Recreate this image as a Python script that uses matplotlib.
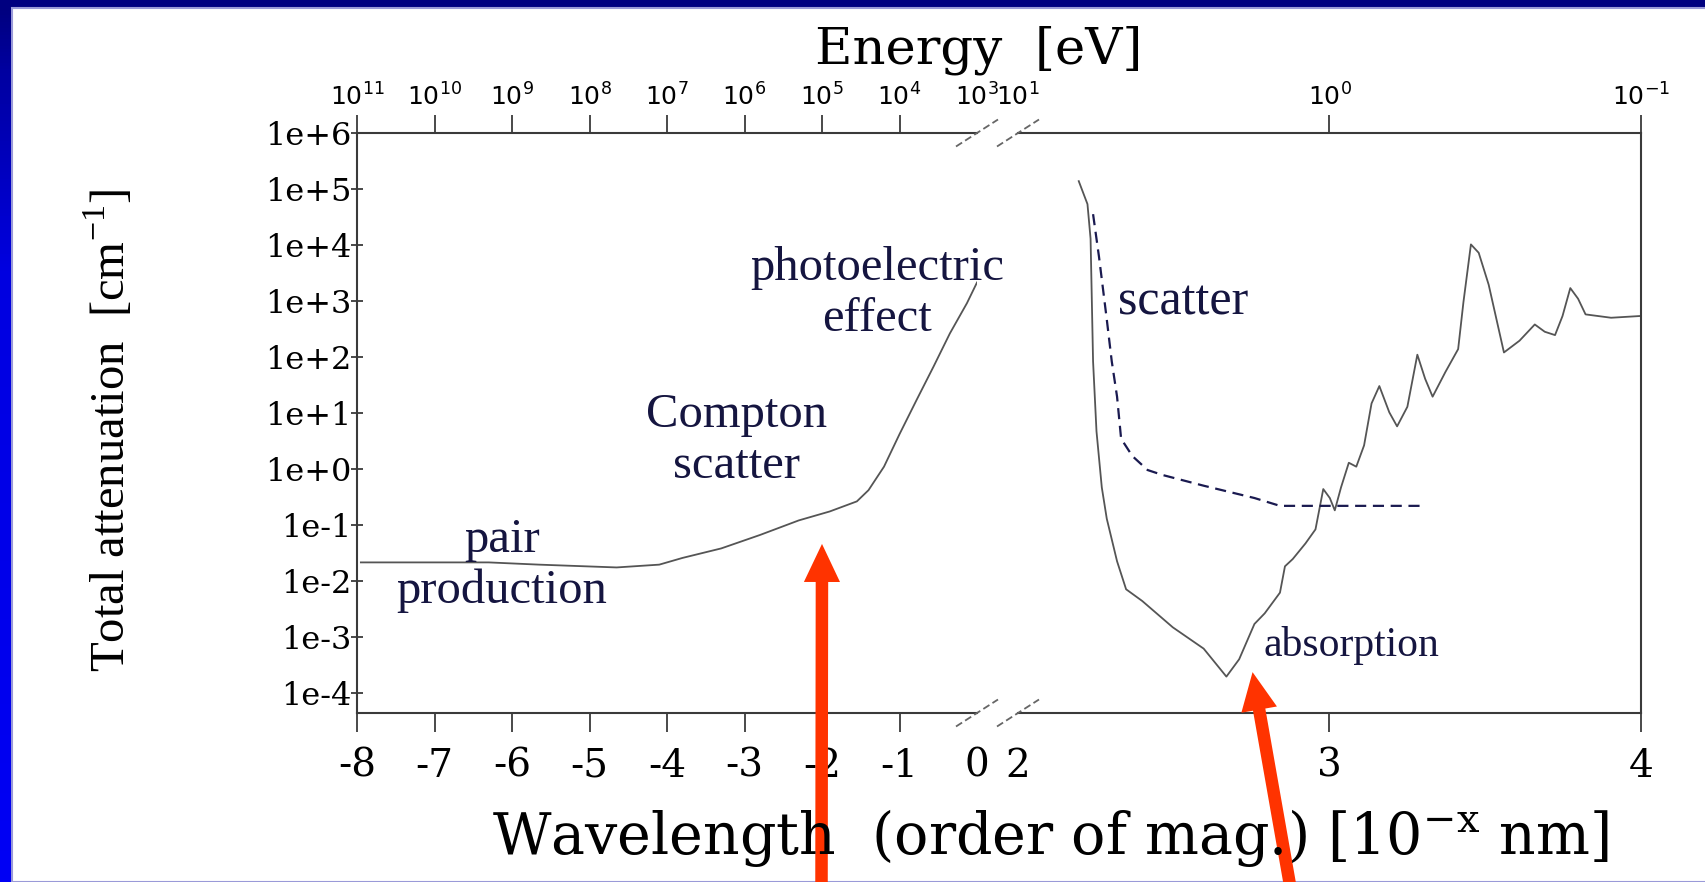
import matplotlib
matplotlib.use('Agg')
import matplotlib.pyplot as plt
import matplotlib.patches as mpatches
import matplotlib.lines as mlines
from matplotlib.ticker import NullLocator
import numpy as np

# wavelength order of magnitude (x) vs log10 of total attenuation [cm^-1]
# high energy part (left of the axis break)
gamma_x = [-7.95, -6.3, -5.65, -5.25, -4.65, -4.1, -3.8, -3.3, -2.8, -2.3,
           -1.9, -1.55, -1.4, -1.2, -1.0, -0.78, -0.56, -0.35, -0.13, 0.0]
gamma_logmu = [-1.67, -1.67, -1.71, -1.73, -1.76, -1.71, -1.59, -1.42, -1.18, -0.92,
               -0.76, -0.58, -0.38, 0.04, 0.62, 1.23, 1.83, 2.42, 2.96, 3.33]

# optical part (right of the break): absorption, solid
absorb_x = [2.195, 2.223, 2.233, 2.241, 2.252, 2.269, 2.285, 2.318, 2.347, 2.399,
            2.497, 2.596, 2.669, 2.710, 2.759, 2.792, 2.841, 2.857, 2.882, 2.923,
            2.955, 2.980, 3.001, 3.017, 3.037, 3.062, 3.086, 3.111, 3.135, 3.160,
            3.192, 3.217, 3.250, 3.282, 3.307, 3.331, 3.372, 3.413, 3.430, 3.454,
            3.479, 3.511, 3.560, 3.610, 3.659, 3.691, 3.724, 3.748, 3.773, 3.798,
            3.822, 3.904, 3.994]
absorb_logmu = [5.14, 4.73, 4.11, 1.92, 0.67, -0.33, -0.89, -1.65, -2.15, -2.36,
                -2.83, -3.21, -3.71, -3.40, -2.77, -2.58, -2.21, -1.74, -1.61, -1.33,
                -1.08, -0.36, -0.52, -0.74, -0.33, 0.11, 0.04, 0.42, 1.17, 1.48,
                1.01, 0.76, 1.11, 2.04, 1.61, 1.29, 1.73, 2.14, 2.98, 4.01,
                3.86, 3.29, 2.08, 2.29, 2.58, 2.45, 2.39, 2.73, 3.23, 3.04,
                2.76, 2.70, 2.73]

# scatter, dashed
scat_x = [2.241, 2.260, 2.285, 2.301, 2.318, 2.331, 2.367, 2.416, 2.465, 2.596,
          2.759, 2.841, 3.307]
scat_logmu = [4.55, 3.79, 2.67, 1.92, 1.29, 0.54, 0.23, -0.02, -0.11, -0.30,
              -0.52, -0.66, -0.66]

left_ticks = [-8, -7, -6, -5, -4, -3, -2, -1, 0]
left_labels = ['-8', '-7', '-6', '-5', '-4', '-3', '-2', '-1', '0']
right_ticks = [2, 3, 4]
right_labels = ['2', '3', '4']
energy_left = ['10$^{11}$', '10$^{10}$', '10$^{9}$', '10$^{8}$', '10$^{7}$',
               '10$^{6}$', '10$^{5}$', '10$^{4}$', '10$^{3}$']
energy_right = ['10$^{1}$', '10$^{0}$', '10$^{-1}$']
y_exp = [6, 5, 4, 3, 2, 1, 0, -1, -2, -3, -4]
y_labels = ['1e%+d' % e for e in y_exp]

W, H = 1706, 882
fig = plt.figure(figsize=(W / 100, H / 100), dpi=100)
fig.patch.set_facecolor('#000080')

# white slide panel + blue strip on the left
fig.add_artist(mpatches.Rectangle((12 / W, 0), 1, 1 - 8 / H, transform=fig.transFigure,
                                  facecolor='white', edgecolor='#9a9ad8', lw=1.5, zorder=-2))
strip = fig.add_axes([0, 0, 11 / W, 1 - 8 / H], zorder=-1)
grad = np.linspace(0, 1, 256).reshape(-1, 1)
strip.imshow(grad, aspect='auto', cmap=matplotlib.colors.LinearSegmentedColormap.from_list(
    'strip', [(0, '#0000f5'), (0.7, '#0000e0'), (0.93, '#0000a0'), (1, '#000080')]),
    origin='lower')
strip.axis('off')

spine_col = '#3a3a3a'
ylo, yhi = 10 ** -4.36, 1e6

ax_l = fig.add_axes([357 / W, 169 / H, 620 / W, 580 / H])
ax_r = fig.add_axes([1018 / W, 169 / H, 623 / W, 580 / H])

ax_l.semilogy(gamma_x, 10.0 ** np.array(gamma_logmu), color='#555555', lw=1.3)
ax_r.semilogy(absorb_x, 10.0 ** np.array(absorb_logmu), color='#555555', lw=1.3)
ax_r.semilogy(scat_x, 10.0 ** np.array(scat_logmu), color='#1a1a50', lw=1.6,
              dashes=(5, 3))

for ax in (ax_l, ax_r):
    ax.set_ylim(ylo, yhi)
    ax.yaxis.set_minor_locator(NullLocator())
    ax.spines['top'].set_visible(False)
    for s in ax.spines.values():
        s.set_color(spine_col)
        s.set_linewidth(1.5)
    ax.tick_params(axis='x', direction='out', length=14, width=1.3, color=spine_col,
                   pad=11, labelsize=28)

ax_l.set_xlim(-8, 0)
ax_r.set_xlim(2, 4)
ax_l.spines['right'].set_visible(False)
ax_r.spines['left'].set_visible(False)

ax_l.set_yticks([10.0 ** e for e in y_exp], labels=y_labels)
ax_l.tick_params(axis='y', direction='inout', length=8, width=1.3, color=spine_col,
                 pad=0, labelsize=23)
for lab in ax_l.get_yticklabels():
    lab.set_fontfamily('DejaVu Serif')
ax_r.set_yticks([])

ax_l.set_xticks(left_ticks, labels=left_labels)
ax_r.set_xticks(right_ticks, labels=right_labels)
for ax in (ax_l, ax_r):
    for lab in ax.get_xticklabels():
        lab.set_fontfamily('DejaVu Serif')

# energy scale on top
sec_l = ax_l.secondary_xaxis('top')
sec_r = ax_r.secondary_xaxis('top')
sec_l.set_xticks(left_ticks, labels=energy_left)
sec_r.set_xticks(right_ticks, labels=energy_right)
for sec in (sec_l, sec_r):
    sec.tick_params(direction='out', length=13, width=1.3, color=spine_col,
                    pad=3, labelsize=18)
    for s in sec.spines.values():
        s.set_color(spine_col)
        s.set_linewidth(1.5)
    for lab in sec.get_xticklabels():
        lab.set_fontfamily('DejaVu Sans')

# no tick marks at the break ends
for axis, idx in ((ax_l.xaxis, -1), (sec_l.xaxis, -1), (ax_r.xaxis, 0), (sec_r.xaxis, 0)):
    t = axis.get_major_ticks()[idx]
    t.tick1line.set_visible(False)
    t.tick2line.set_visible(False)

# break marks (//) on top and bottom
xb = [977 / W, 1018 / W]
for yb in (169 / H, 749 / H):
    for xc in xb:
        fig.add_artist(mlines.Line2D([xc - 21 / W, xc + 21 / W], [yb - 13.5 / H, yb + 13.5 / H],
                                     transform=fig.transFigure, color='#666666', lw=1.3,
                                     ls=(0, (4, 2))))

# process labels
txt_col = '#151540'
ax_l.text(-6.13, 10 ** -1.73, 'pair\nproduction', ha='center', va='center',
          fontsize=35, family='Liberation Serif', color=txt_col)
ax_l.text(-3.10, 10 ** 0.51, 'Compton\nscatter', ha='center', va='center',
          fontsize=35, family='Liberation Serif', color=txt_col)
ax_l.text(-1.29, 10 ** 3.13, 'photoelectric\neffect', ha='center', va='center',
          fontsize=35, family='Liberation Serif', color=txt_col)
ax_r.text(2.53, 10 ** 2.97, 'scatter', ha='center', va='center',
          fontsize=36, family='Liberation Serif', color=txt_col)
ax_r.text(3.07, 10 ** -3.16, 'absorption', ha='center', va='center',
          fontsize=30, family='Liberation Serif', color=txt_col)

# axis titles
fig.text(979 / W, 1 - 50 / H, 'Energy  [eV]', ha='center', va='center',
         fontsize=37, family='DejaVu Serif')
fig.text(1050 / W, 1 - 838 / H,
         'Wavelength  (order of mag.) [10$^{\\mathregular{-x}}$ nm]',
         ha='center', va='center', fontsize=41, family='DejaVu Serif')
fig.text(109 / W, 1 - 430 / H, 'Total attenuation  [cm$^{\\mathregular{-1}}$]',
         ha='center', va='center', rotation=90, fontsize=35, family='Liberation Serif')

# red arrows pointing at the curve
red = '#ff3300'
arrow = dict(arrowstyle='simple,head_length=1.37,head_width=1.3,tail_width=0.45',
             color=red, lw=0, mutation_scale=20, shrinkA=0, shrinkB=0)
ax_l.annotate('', xy=(-2.0, 10 ** -1.34), xytext=(821.5 / W, -0.01),
              textcoords='figure fraction', arrowprops=arrow, annotation_clip=False)
ax_r.annotate('', xy=(2.753, 10 ** -3.63), xytext=(1291 / W, -0.01),
              textcoords='figure fraction', arrowprops=arrow, annotation_clip=False)

plt.savefig('out.png', dpi=100, facecolor=fig.get_facecolor())
